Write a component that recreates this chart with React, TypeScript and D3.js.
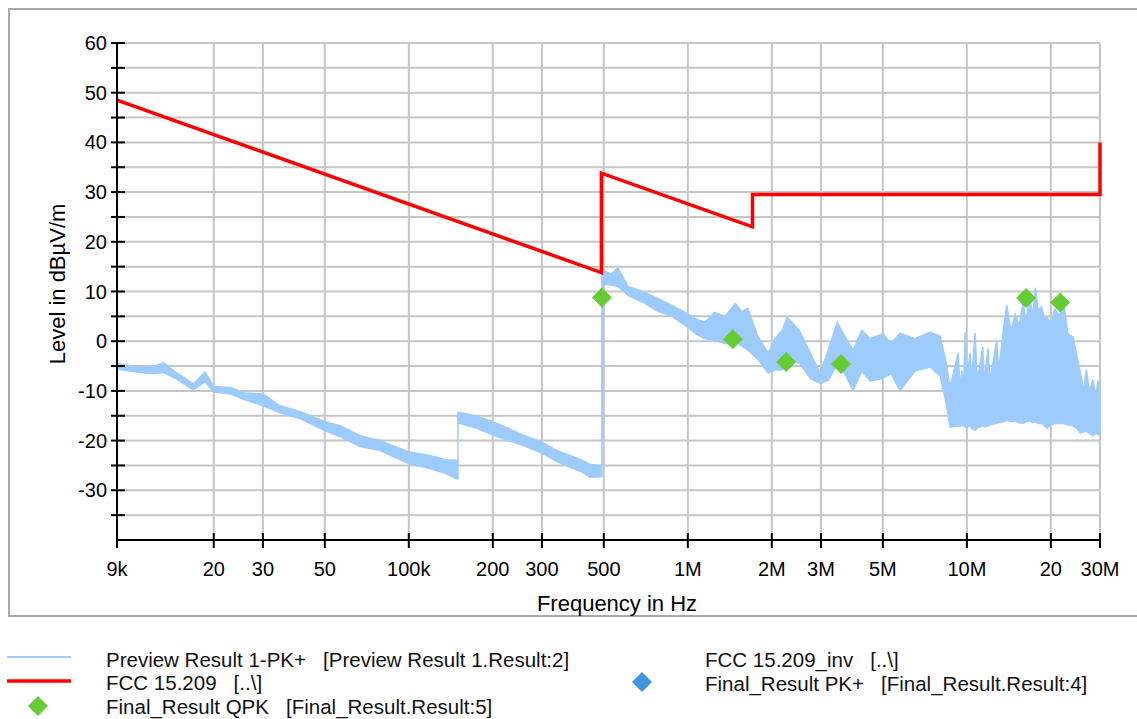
import React, { useRef, useEffect } from "react";
import * as d3 from "d3";

// axis ticks
const xTickFreqs = [9e3, 20e3, 30e3, 50e3, 100e3, 200e3, 300e3, 500e3, 1e6, 2e6, 3e6, 5e6, 10e6, 20e6, 30e6];
const xTickLabels = ["9k", "20", "30", "50", "100k", "200", "300", "500", "1M", "2M", "3M", "5M", "10M", "20", "30M"];
const yTickValues = [60, 50, 40, 30, 20, 10, 0, -10, -20, -30];
const yMinorValues = [55, 45, 35, 25, 15, 5, -5, -15, -25, -35];

// FCC 15.209 limit line (Hz, dBuV/m)
const limitFreqs = [9e3, 490e3, 490e3, 1.705e6, 1.705e6, 30e6, 30e6];
const limitLevels = [48.5, 13.8, 33.8, 23.0, 29.5, 29.5, 40.0];

// Preview Result 1-PK+ envelope (kHz, upper, lower)
const previewFreqs = [
  9, 10, 11.3, 12.2, 13.2, 14.5, 16.9, 18.6, 20, 22.9, 25.9, 30, 34.6, 40.8, 50, 56.7, 66.9, 78.8, 100, 119, 135, 150,
  150, 173, 200, 231, 260, 300, 340, 378, 420, 446, 492,
  492, 497, 530, 562, 611, 703, 780, 878, 1000, 1060, 1150, 1250, 1360, 1480, 1560, 1640, 1780, 1940, 2050, 2180,
  2270, 2520, 2750, 2980, 3200, 3430, 3650, 3910, 4200, 4500, 5000, 5350, 5760, 6520, 7380, 8020, 8400, 8710,
  9300, 9450, 9600, 9750, 9860, 10000, 10270, 10400, 10700, 10900, 11400, 11550, 11900, 12100, 12800, 13000, 13500,
  13900, 14400, 14900, 15400, 15900, 16300, 16800, 17200, 17600, 18000, 18500, 19000, 19400, 20000, 20700, 21500,
  22100, 23000, 24000, 24800, 25500, 26200, 26800, 27500, 28300, 29000, 29500, 30000,
];
const previewHigh = [
  -4.5, -4.9, -5.3, -5.1, -4.3, -6.1, -8.6, -6.2, -9.1, -9.3, -10.4, -10.6, -13.0, -14.2, -16.2, -17.0, -19.0, -20.0,
  -22.3, -23.0, -23.8, -24.0,
  -14.3, -15.0, -16.2, -17.7, -19.0, -20.3, -22.0, -23.0, -24.0, -24.8, -25.0,
  13.5, 14.3, 13.5, 14.7, 11.0, 9.8, 8.6, 7.2, 5.5, 4.6, 3.8, 5.8, 5.0, 7.6, 6.0, 6.6, 1.0, -2.4, 0.5, 2.2,
  4.8, 2.0, -2.5, -6.4, -1.5, 3.8, 1.0, -1.8, 2.2, 0.5, 1.5, -0.5, 1.6, 0.5, 1.8, 1.0, -4.0, -9.3,
  -2.4, -9.0, -6.0, -9.0, 1.6, -8.0, -2.4, -8.0, 1.6, -8.0, -1.2, -8.0, -1.5, -8.0, 0.2, -6.0, 2.0,
  7.2, 2.0, 5.5, 3.0, 7.8, 4.0, 9.0, 5.0, 10.7, 6.2, 7.0, 4.6, 4.8, 3.5, 6.5, 5.0,
  8.8, 1.5, 0.8, -3.0, -6.2, -10.0, -5.8, -10.0, -7.8, -11.0, -8.0, -11.0,
];
const previewLow = [
  -5.6, -6.0, -6.4, -6.5, -6.3, -7.4, -9.8, -8.2, -10.2, -10.6, -11.8, -13.0, -14.4, -15.6, -18.0, -19.2, -21.2, -22.0,
  -24.6, -25.6, -26.6, -27.8,
  -16.4, -17.4, -18.9, -20.1, -21.1, -22.5, -24.2, -25.3, -26.4, -27.4, -27.2,
  -27.2, 11.5, 11.3, 11.0, 9.2, 7.6, 6.0, 5.0, 2.8, 1.6, 0.5, 0.2, -0.5, 0.0, -1.0, -1.8, -3.6, -6.4, -5.8, -5.8,
  -3.5, -4.5, -7.5, -8.5, -7.8, -4.5, -6.5, -9.9, -6.0, -8.0, -7.5, -6.5, -10.0, -6.0, -5.2, -7.0, -12.0, -17.3,
  -17.0, -17.2, -16.8, -17.0, -17.3, -17.2, -17.0, -17.6, -17.9, -17.4, -17.0, -17.2, -17.0, -16.8, -16.5, -16.4, -16.2,
  -15.9, -16.2, -16.0, -16.4, -16.5, -16.2, -16.0, -16.3, -16.2, -16.6, -16.5, -17.0, -17.5, -16.8, -16.5, -16.6,
  -16.5, -16.8, -17.0, -17.6, -18.5, -18.3, -18.0, -18.6, -19.0, -18.4, -18.8, -18.5,
];

// Final_Result QPK
const qpkFreqs = [492e3, 1.45e6, 2.25e6, 3.54e6, 16.3e6, 21.6e6];
const qpkLevels = [8.8, 0.4, -4.2, -4.6, 8.7, 7.8];

const FONT = "'Liberation Sans', Arial, sans-serif";

const App = () => {
  const svgRef = useRef(null);

  useEffect(() => {
    const width = 1137;
    const height = 719;
    const left = 117;
    const right = 1100;
    const top = 43;
    const bottom = 540;

    const svg = d3.select(svgRef.current).attr("width", width).attr("height", height);
    svg.selectAll("*").remove();

    const x = d3.scaleLog().domain([9e3, 30e6]).range([left, right]);
    const y = d3.scaleLinear().domain([-40, 60]).range([bottom, top]);

    // outer frame
    svg
      .append("rect")
      .attr("x", 9)
      .attr("y", 9)
      .attr("width", width + 20)
      .attr("height", 607)
      .attr("fill", "none")
      .attr("stroke", "#a9a9a9")
      .attr("stroke-width", 2);

    // grid
    const grid = svg.append("g");
    grid
      .selectAll()
      .data([...yTickValues, ...yMinorValues])
      .join("line")
      .attr("x1", left)
      .attr("x2", right)
      .attr("y1", (d) => y(d))
      .attr("y2", (d) => y(d))
      .attr("stroke", "#c6c6c6")
      .attr("stroke-width", 2);
    grid
      .selectAll()
      .data(xTickFreqs.slice(1))
      .join("line")
      .attr("x1", (d) => x(d))
      .attr("x2", (d) => x(d))
      .attr("y1", top)
      .attr("y2", bottom)
      .attr("stroke", "#c6c6c6")
      .attr("stroke-width", 2);

    const plot = svg.append("g");

    // preview trace as envelope band
    const pts = previewFreqs.map((f, i) => ({ f: f * 1000, hi: previewHigh[i], lo: previewLow[i] }));
    const area = d3
      .area()
      .x((d) => x(d.f))
      .y0((d) => y(d.lo))
      .y1((d) => y(d.hi));
    plot
      .append("path")
      .datum(pts)
      .attr("d", area)
      .attr("fill", "#9dcbfb")
      .attr("stroke", "#9dcbfb")
      .attr("stroke-width", 1.5)
      .attr("stroke-linejoin", "round");

    // limit line
    const limitPts = limitFreqs.map((f, i) => [x(f), y(limitLevels[i])]);
    plot
      .append("path")
      .attr("d", d3.line()(limitPts))
      .attr("fill", "none")
      .attr("stroke", "#ff0000")
      .attr("stroke-width", 3.5);

    // QPK diamonds
    const diamond = d3.symbol().type(d3.symbolSquare).size(200);
    plot
      .selectAll()
      .data(qpkFreqs)
      .join("path")
      .attr("d", diamond)
      .attr("transform", (d, i) => `translate(${x(d)},${y(qpkLevels[i])}) rotate(45)`)
      .attr("fill", "#66cc33");

    // axes
    const axes = svg.append("g").attr("stroke", "#000").attr("stroke-width", 2);
    axes.append("line").attr("x1", left).attr("x2", left).attr("y1", top).attr("y2", bottom);
    axes.append("line").attr("x1", left).attr("x2", right).attr("y1", bottom).attr("y2", bottom);
    axes
      .selectAll()
      .data([...yTickValues, ...yMinorValues])
      .join("line")
      .attr("x1", left - 6)
      .attr("x2", left + 8)
      .attr("y1", (d) => y(d))
      .attr("y2", (d) => y(d));
    axes
      .selectAll()
      .data(xTickFreqs)
      .join("line")
      .attr("x1", (d) => x(d))
      .attr("x2", (d) => x(d))
      .attr("y1", (d, i) => (i === 0 ? bottom : bottom - 7))
      .attr("y2", bottom + 8);

    const labels = svg.append("g").attr("font-family", FONT).attr("font-size", 20).attr("fill", "#000");
    labels
      .selectAll()
      .data(yTickValues)
      .join("text")
      .attr("x", left - 10)
      .attr("y", (d) => y(d))
      .attr("dy", "0.35em")
      .attr("text-anchor", "end")
      .text((d) => d);
    labels
      .selectAll()
      .data(xTickFreqs)
      .join("text")
      .attr("x", (d) => x(d))
      .attr("y", 576)
      .attr("text-anchor", "middle")
      .text((d, i) => xTickLabels[i]);
    labels
      .append("text")
      .attr("x", 617)
      .attr("y", 611)
      .attr("font-size", 22)
      .attr("text-anchor", "middle")
      .text("Frequency in Hz");
    labels
      .append("text")
      .attr("transform", "translate(65,284) rotate(-90)")
      .attr("font-size", 22)
      .attr("text-anchor", "middle")
      .text("Level in dB\u00b5V/m");

    // legend
    const legend = svg.append("g").attr("font-family", FONT).attr("font-size", 20.5).attr("fill", "#111");
    legend.append("line").attr("x1", 7).attr("x2", 71).attr("y1", 657).attr("y2", 657).attr("stroke", "#9dcbfb").attr("stroke-width", 2);
    legend.append("line").attr("x1", 7).attr("x2", 71).attr("y1", 681).attr("y2", 681).attr("stroke", "#ff0000").attr("stroke-width", 3.5);
    legend
      .append("path")
      .attr("d", diamond)
      .attr("transform", "translate(38,706) rotate(45)")
      .attr("fill", "#66cc33");
    legend
      .append("path")
      .attr("d", diamond)
      .attr("transform", "translate(642,682) rotate(45)")
      .attr("fill", "#3d96dd");

    const legendItems = [
      { x: 106, y: 660, t: "Preview Result 1-PK+   [Preview Result 1.Result:2]" },
      { x: 106, y: 683, t: "FCC 15.209   [..\\]" },
      { x: 106, y: 707, t: "Final_Result QPK   [Final_Result.Result:5]" },
      { x: 705, y: 660, t: "FCC 15.209_inv   [..\\]" },
      { x: 705, y: 684, t: "Final_Result PK+   [Final_Result.Result:4]" },
    ];
    legend
      .selectAll()
      .data(legendItems)
      .join("text")
      .attr("x", (d) => d.x)
      .attr("y", (d) => d.y)
      .attr("dy", "0.35em")
      .style("white-space", "pre")
      .text((d) => d.t);
  }, []);

  return (
    <div style={{ position: "absolute", left: 0, top: 0 }}>
      <svg ref={svgRef} style={{ display: "block", background: "#fff" }}></svg>
    </div>
  );
};

export default App;
